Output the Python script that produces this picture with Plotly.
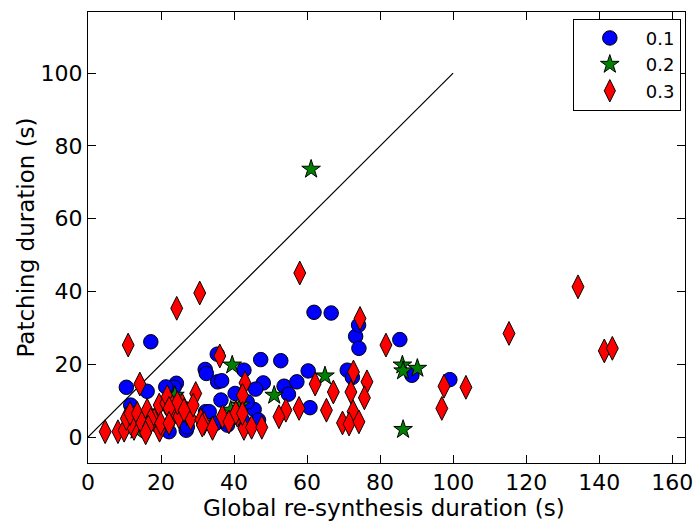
import plotly.graph_objects as go

# Series 0.1 (blue circles)
x_01 = [10.5, 17.2, 11.7, 16.2, 24.2, 23.6, 21.3, 35.4, 32.1, 32.4, 35.5, 36.6, 40.3, 32.2, 33.2,
        36.4, 26.9, 22.2, 27.2, 35.0, 38.2, 42.7, 47.3, 52.8, 60.3, 71.0, 72.4, 73.3, 74.2, 74.1,
        48.0, 45.9, 53.7, 57.2, 54.9, 45.5, 60.8, 46.7, 42.3, 43.6, 85.4, 88.7, 99.1, 61.9, 66.6, 12.6]
y_01 = [13.7, 26.2, 8.8, 12.6, 14.8, 13.7, 13.8, 22.8, 18.6, 17.5, 15.2, 15.5, 12.0, 7.0, 7.0,
        10.2, 1.9, 1.5, 2.8, 3.8, 3.3, 18.4, 21.3, 21.0, 18.2, 18.4, 16.4, 27.7, 24.4, 30.8,
        14.9, 13.2, 14.0, 15.2, 11.8, 7.6, 8.1, 4.7, 4.7, 9.7, 26.8, 17.0, 15.8, 34.3, 34.1, 6.5]

# Series 0.2 (green stars)
x_02 = [61.1, 64.9, 51.0, 39.5, 23.8, 41.8, 39.1, 13.3, 86.1, 86.3, 90.2, 86.3]
y_02 = [73.6, 16.8, 11.5, 19.8, 11.5, 8.8, 7.4, 1.9, 19.8, 18.2, 18.9, 2.1]

# Series 0.3 (red diamonds)
x_03 = [11.0, 24.3, 30.6, 58.0, 36.1, 74.5, 81.6, 14.2, 29.5, 43.0, 42.3, 72.7, 76.4, 62.2, 67.2,
        72.0, 75.7, 57.8, 54.2, 52.3, 65.3, 72.6, 69.7, 71.5, 74.2, 40.9, 42.7, 44.8, 47.6, 97.5,
        103.5, 96.9, 134.2, 115.3, 141.4, 143.6,
        4.7, 8.2, 9.9, 12.6, 11.7, 10.5, 11.5, 13.5, 16.2, 19.5, 21.3, 21.7, 18.1, 17.2, 14.7,
        16.5, 15.8, 19.6, 19.9, 22.7, 23.1, 23.1, 24.9, 25.8, 27.2, 28.1, 28.8, 30.9, 31.8, 34.1,
        36.8, 38.6, 40.5, 42.3, 24.5, 26.3, 31.3, 22.2, 22.2]
y_03 = [25.3, 35.4, 39.6, 45.1, 22.3, 32.6, 25.3, 14.6, 12.0, 14.9, 11.5, 17.9, 15.2, 14.6, 12.4,
        12.4, 10.8, 7.9, 7.4, 5.6, 7.4, 7.0, 3.9, 3.6, 4.2, 6.0, 2.4, 2.7, 2.7, 14.0,
        13.7, 7.9, 41.3, 28.5, 23.7, 24.4,
        1.5, 1.5, 1.9, 2.4, 3.8, 5.1, 6.5, 6.5, 7.4, 8.8, 9.3, 11.1, 4.7, 4.8, 3.9,
        2.8, 1.2, 1.9, 3.8, 4.7, 8.3, 6.5, 5.6, 8.8, 6.5, 5.1, 8.8, 4.7, 3.8, 2.4,
        5.6, 4.2, 6.7, 6.5, 9.4, 7.4, 3.3, 7.9, 3.8]

# Reference diagonal
diag_x = [0, 100]
diag_y = [0, 100]

X_TITLE = "Global re-synthesis duration (s)"
Y_TITLE = "Patching duration (s)"

FONT = "DejaVu Sans"

fig = go.Figure()
fig.add_trace(go.Scatter(x=diag_x, y=diag_y, mode="lines",
                         line=dict(color="black", width=1.2), showlegend=False, hoverinfo="skip"))
fig.add_trace(go.Scatter(x=x_01, y=y_01, mode="markers", name="0.1",
                         marker=dict(symbol="circle", size=14.5, color="#0000ff",
                                     line=dict(color="black", width=1))))
fig.add_trace(go.Scatter(x=x_02, y=y_02, mode="markers", name="0.2",
                         marker=dict(symbol="star", size=14, color="#008000",
                                     line=dict(color="black", width=1))))
fig.add_trace(go.Scatter(x=x_03, y=y_03, mode="markers", name="0.3",
                         marker=dict(symbol="diamond-tall", size=17, color="#ff0000",
                                     line=dict(color="black", width=1))))

axis_common = dict(showgrid=False, zeroline=False, showline=True, linecolor="black", linewidth=1,
                   mirror="ticks", ticks="inside", ticklen=8, tickwidth=1, tickcolor="black",
                   automargin=False,
                   tickfont=dict(family=FONT, size=22, color="black"))

fig.update_layout(
    width=700, height=523,
    margin=dict(l=88, r=15, t=12, b=60),
    paper_bgcolor="white", plot_bgcolor="white",
    font=dict(family=FONT, color="black"),
    xaxis=dict(range=[0, 163.5], tickvals=[0, 20, 40, 60, 80, 100, 120, 140, 160],
               **axis_common),
    yaxis=dict(range=[-7.1, 116.8], tickvals=[0, 20, 40, 60, 80, 100],
               **axis_common),
    legend=dict(x=0.993, y=0.985, xanchor="right", yanchor="top",
                bordercolor="black", borderwidth=1, bgcolor="white",
                font=dict(family=FONT, size=18), itemwidth=62,
                tracegroupgap=2),
    showlegend=True,
    annotations=[
        dict(text=X_TITLE, xref="paper", yref="paper", x=0.495, y=0, yshift=-45,
             xanchor="center", yanchor="middle", showarrow=False,
             font=dict(family=FONT, size=23, color="black")),
        dict(text=Y_TITLE, xref="paper", yref="paper", x=0, y=0.5, xshift=-63,
             xanchor="center", yanchor="middle", textangle=-90, showarrow=False,
             font=dict(family=FONT, size=23, color="black")),
    ],
)

fig.write_html("out.html")
